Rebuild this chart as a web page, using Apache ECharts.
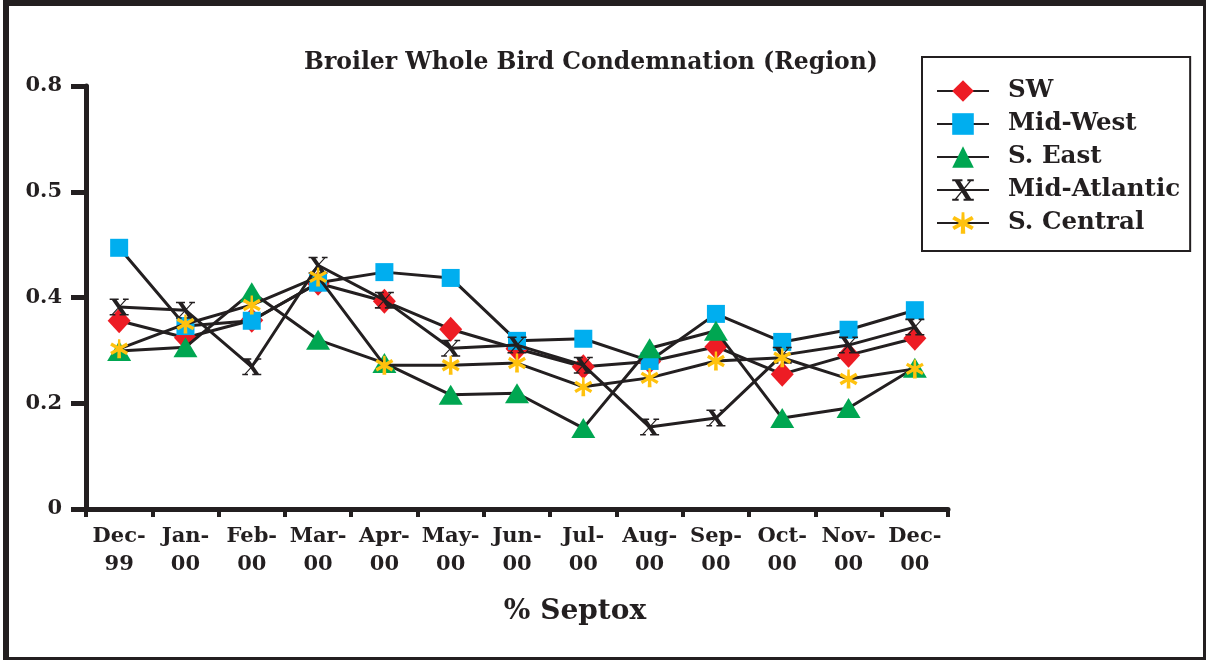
<!DOCTYPE html>
<html><head><meta charset="utf-8">
<script src="https://cdn.jsdelivr.net/npm/echarts@6/dist/echarts.min.js"></script>
<style>html,body{margin:0;padding:0;background:#fff}#c{width:1206px;height:660px}</style>
</head><body><div id="c"></div>
<script>
// ---- data ----
const categories = ['Dec-\n99','Jan-\n00','Feb-\n00','Mar-\n00','Apr-\n00','May-\n00','Jun-\n00','Jul-\n00','Aug-\n00','Sep-\n00','Oct-\n00','Nov-\n00','Dec-\n00'];
const seriesNames = ['SW','Mid-West','S. East','Mid-Atlantic','S. Central'];
const sw          = [0.356,0.324,0.357,0.427,0.393,0.340,0.303,0.269,0.279,0.307,0.255,0.291,0.323];
const midWest     = [0.494,0.346,0.356,0.428,0.448,0.437,0.318,0.322,0.280,0.369,0.316,0.339,0.376];
const sEast       = [0.299,0.306,0.410,0.320,0.276,0.216,0.219,0.153,0.304,0.337,0.172,0.191,0.267];
const midAtlantic = [0.382,0.376,0.269,0.461,0.395,0.304,0.310,0.272,0.155,0.172,0.291,0.310,0.344];
const sCentral    = [0.303,0.350,0.386,0.439,0.272,0.272,0.276,0.231,0.248,0.280,0.286,0.246,0.265];
const yTickLabels = ['0','0.2','0.4','0.5','0.8'];
const titleText = 'Broiler Whole Bird Condemnation (Region)';
const xAxisName = '% Septox';

// ---- styling ----
const INK = '#231F20';
const SERIF = "'DejaVu Serif', 'Liberation Serif', serif";
// serif-style "X" glyph: thick stroke, thin stroke, small serifs
const xPath = 'path://M-0.78,-0.86L-0.28,-0.86L0.78,0.86L0.28,0.86Z ' +
  'M0.62,-0.86L0.78,-0.86L-0.62,0.86L-0.78,0.86Z ' +
  'M-1,-1L-0.05,-1L-0.05,-0.82L-1,-0.82Z M0.4,-1L1,-1L1,-0.82L0.4,-0.82Z ' +
  'M-1,0.82L-0.4,0.82L-0.4,1L-1,1Z M0.05,0.82L1,0.82L1,1L0.05,1Z';
const astPath = 'path://M-0.2,1L0.2,1L0.12,-1L-0.12,-1Z M0.776,0.656L0.956,0.344L-0.776,-0.656L-0.956,-0.344Z M-0.956,0.344L-0.776,0.656L0.956,-0.344L0.776,-0.656Z';

const styles = [
  {data: sw, symbol: 'diamond', size: [23,25], color: '#ED1C24'},
  {data: midWest, symbol: 'rect', size: 18, color: '#00AEEF'},
  {data: sEast, symbol: 'triangle', size: [24,20], color: '#00A651'},
  {data: midAtlantic, symbol: xPath, size: [19,17], color: INK},
  {data: sCentral, symbol: astPath, size: [18,19], color: '#FFC20E'}
];

const chart = echarts.init(document.getElementById('c'), null, {renderer: 'canvas'});
chart.setOption({
  backgroundColor: '#fff',
  animation: false,
  title: {
    text: titleText, left: 586, top: 46, textAlign: 'center',
    textStyle: {fontFamily: SERIF, fontWeight: 'bold', fontSize: 23.5, color: INK}
  },
  legend: {
    orient: 'vertical', left: 922, top: 57,
    padding: [20, 10, 14, 14],
    borderColor: INK, borderWidth: 2,
    itemWidth: 52, itemHeight: 27, itemGap: 5,
    textStyle: {fontFamily: SERIF, fontWeight: 'bold', fontSize: 24.5, color: INK, lineHeight: 28, padding: [0,0,0,14]},
    data: seriesNames
  },
  graphic: [{
    type: 'rect', left: 3, top: 0, shape: {width: 1200, height: 657},
    style: {fill: 'none', stroke: INK, lineWidth: 6}, silent: true
  }, {
    type: 'text', x: 575, y: 612,
    style: {text: xAxisName, fill: INK, font: "bold 28px 'DejaVu Serif', serif", align: 'center', verticalAlign: 'middle'},
    silent: true
  }],
  grid: {left: 86, top: 86, width: 862, bottom: 151},
  xAxis: {
    type: 'category', data: categories, boundaryGap: true,
    axisLine: {lineStyle: {color: INK, width: 5}},
    axisTick: {show: true, length: 8, lineStyle: {color: INK, width: 4}, alignWithLabel: false},
    axisLabel: {fontFamily: SERIF, fontWeight: 'bold', fontSize: 21, color: INK, lineHeight: 28, margin: 14, interval: 0}
  },
  yAxis: {
    type: 'value', min: 0, max: 0.8, interval: 0.2,
    splitLine: {show: false},
    axisLine: {show: true, lineStyle: {color: INK, width: 5}},
    axisTick: {show: true, length: 15, lineStyle: {color: INK, width: 5}},
    axisLabel: {fontFamily: SERIF, fontWeight: 'bold', fontSize: 21, color: INK, margin: 24,
      formatter: (v, i) => yTickLabels[i]}
  },
  series: styles.map((s, i) => ({
    name: seriesNames[i], type: 'line', data: s.data,
    symbol: s.symbol, symbolSize: s.size, symbolKeepAspect: false,
    showAllSymbol: true,
    lineStyle: {color: INK, width: 3},
    itemStyle: {color: s.color, borderWidth: 0, opacity: 1},
    emphasis: {disabled: true},
    z: 2 + i
  }))
});
</script></body></html>
